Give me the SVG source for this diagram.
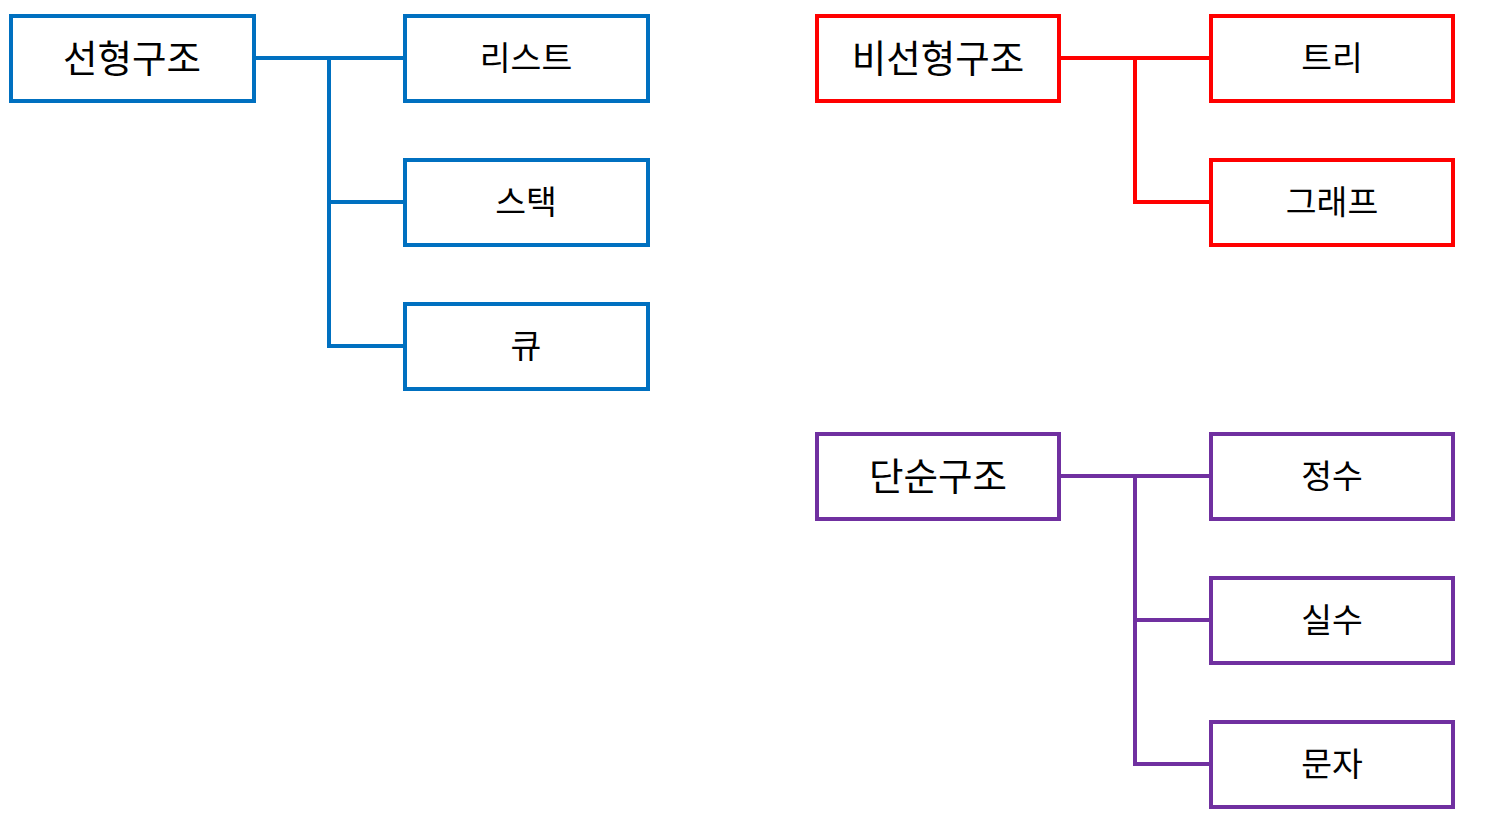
<svg xmlns="http://www.w3.org/2000/svg" width="1494" height="833" viewBox="0 0 1494 833">
<style>
rect{fill:#fff;stroke-width:4}
.b{stroke:#0070C0}.r{stroke:#FF0000}.p{stroke:#7030A0}
.c path{fill:none;stroke-width:4}
text{font-family:"Noto Sans CJK KR","Noto Sans",sans-serif;fill:#000;text-anchor:middle;dominant-baseline:central}
.m{font-size:37.5px}.s{font-size:33.5px}
</style>
<rect width="1494" height="833" fill="#fff" stroke="none"/>
<g class="c">
<path class="b" d="M254 58H405M329 58V346H405M329 202H405"/>
<path class="r" d="M1059 58H1211M1135 58V202H1211"/>
<path class="p" d="M1059 476H1211M1135 476V764H1211M1135 620H1211"/>
</g>
<g id="n1"><rect class="b" x="11" y="16" width="243" height="85"/><text class="m" x="132" y="55">선형구조</text></g>
<g id="n2"><rect class="b" x="405" y="16" width="243" height="85"/><text class="s" x="526" y="55">리스트</text></g>
<g id="n3"><rect class="b" x="405" y="160" width="243" height="85"/><text class="s" x="526" y="199">스택</text></g>
<g id="n4"><rect class="b" x="405" y="304" width="243" height="85"/><text class="s" x="526" y="343">큐</text></g>
<g id="n5"><rect class="r" x="817" y="16" width="242" height="85"/><text class="m" x="938" y="55">비선형구조</text></g>
<g id="n6"><rect class="r" x="1211" y="16" width="242" height="85"/><text class="s" x="1332" y="55">트리</text></g>
<g id="n7"><rect class="r" x="1211" y="160" width="242" height="85"/><text class="s" x="1332" y="199">그래프</text></g>
<g id="n8"><rect class="p" x="817" y="434" width="242" height="85"/><text class="m" x="938" y="473">단순구조</text></g>
<g id="n9"><rect class="p" x="1211" y="434" width="242" height="85"/><text class="s" x="1332" y="473">정수</text></g>
<g id="n10"><rect class="p" x="1211" y="578" width="242" height="85"/><text class="s" x="1332" y="617">실수</text></g>
<g id="n11"><rect class="p" x="1211" y="722" width="242" height="85"/><text class="s" x="1332" y="761">문자</text></g>
</svg>
